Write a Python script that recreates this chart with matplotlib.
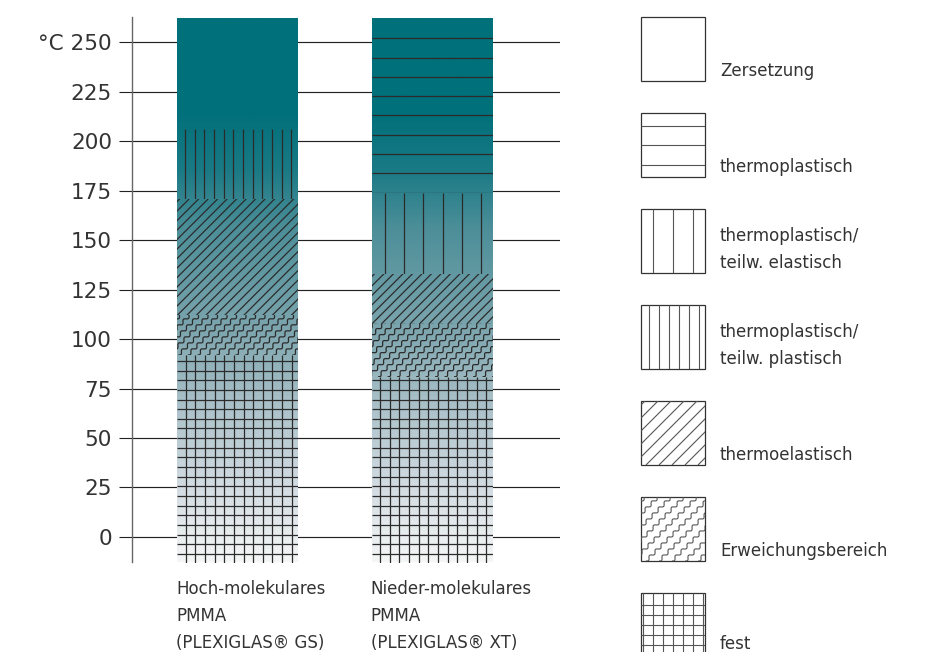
import matplotlib
matplotlib.use("Agg")
import matplotlib.pyplot as plt
import numpy as np
from matplotlib.collections import LineCollection
from matplotlib.patches import Rectangle
from matplotlib.colors import LinearSegmentedColormap

plt.rcParams['font.family'] = ['DejaVu Sans']

# --- data -------------------------------------------------------------
products = ["Hoch-molekulares\nPMMA\n(PLEXIGLAS® GS)",
            "Nieder-molekulares\nPMMA\n(PLEXIGLAS® XT)"]

# legend order (top to bottom)
states = ["Zersetzung", "thermoplastisch", "thermoplastisch/\nteilw. elastisch",
          "thermoplastisch/\nteilw. plastisch", "thermoelastisch",
          "Erweichungsbereich", "fest"]

# states of each material from bottom to top with upper limit in °C
gs_states = ["fest", "Erweichungsbereich", "thermoelastisch",
             "thermoplastisch/\nteilw. plastisch", "Zersetzung"]
gs_upper = [92, 112, 171, 206, 262.5]
xt_states = ["fest", "Erweichungsbereich", "thermoelastisch",
             "thermoplastisch/\nteilw. elastisch", "thermoplastisch"]
xt_upper = [81, 108, 133, 174, 262.5]

yticks = [0, 25, 50, 75, 100, 125, 150, 175, 200, 225, 250]
ytick_labels = ["0", "25", "50", "75", "100", "125", "150", "175", "200", "225", "°C 250"]

y_min = -12.9
y_max = 262.5

# hatch kind per state
hatch_kind = {
    "Zersetzung": None,
    "thermoplastisch": "h",
    "thermoplastisch/\nteilw. elastisch": "v",
    "thermoplastisch/\nteilw. plastisch": "v",
    "thermoelastisch": "diag",
    "Erweichungsbereich": "wave",
    "fest": "grid",
}
# spacing / offset in pixels (bars, legend)
bar_hatch = {
    "thermoplastisch": (19.3, 0),
    "thermoplastisch/\nteilw. elastisch": (19.3, 13.3),
    "thermoplastisch/\nteilw. plastisch": (9.65, 8),
    "thermoelastisch": (9.5, 3),
    "Erweichungsbereich": (9.5, 3),
    "fest": (9.65, 8.6),
}
leg_hatch = {
    "thermoplastisch": (19.3, 12.4),
    "thermoplastisch/\nteilw. elastisch": (20, 12),
    "thermoplastisch/\nteilw. plastisch": (10, 7.7),
    "thermoelastisch": (13, 4),
    "Erweichungsbereich": (13, 4),
    "fest": (10, 2),
}

W, H = 931, 652
fig = plt.figure(figsize=(W / 100, H / 100), dpi=100)

ax_l, ax_r, ax_b, ax_t = 132, 560, 562.5, 17.5
ax = fig.add_axes([ax_l / W, 1 - ax_b / H, (ax_r - ax_l) / W, (ax_b - ax_t) / H])
ax.set_ylim(y_min, y_max)
ax.set_xlim(-0.5424, 1.658)
ax.set_yticks(yticks)
ax.set_yticklabels(ytick_labels)
ax.set_xticks([])
for s in ["top", "right", "bottom"]:
    ax.spines[s].set_visible(False)
ax.spines["left"].set_color("#666666")
ax.spines["left"].set_linewidth(1.0)
ax.tick_params(axis="y", length=9.4, width=0.8, color="#222222", pad=5,
               labelsize=15.5, labelcolor="#333333")
ax.yaxis.grid(True, color="#222222", linewidth=0.85)
ax.set_axisbelow(True)

# gradient colormap (value -> colour)
grad_vals = [-8, 33.8, 69.2, 109.6, 158.6, 186.9, 215.7, 262.5]
grad_cols = ["#f4f6f6", "#cdd8df", "#abc1c9", "#7aa4ad", "#4b8e98", "#1a7a85",
             "#00707a", "#00707a"]
pos = [(v - grad_vals[0]) / (grad_vals[-1] - grad_vals[0]) for v in grad_vals]
cmap = LinearSegmentedColormap.from_list("plexi", list(zip(pos, grad_cols)))

bar_w = 0.622
overlay = fig.add_axes([0, 0, 1, 1], zorder=5)
overlay.set_xlim(0, W)
overlay.set_ylim(H, 0)
overlay.axis("off")

hatch_col = "#2b2b2b"


def to_px(x, y):
    xd, yd = ax.transData.transform((x, y))
    return xd, H - yd


def draw_hatch(kind, x0, y0, x1, y1, sp, off, col, lw):
    # x0,y0 top-left, x1,y1 bottom-right (pixel coordinates, y downward)
    segs = []
    if kind in ("v", "grid"):
        x = x0 + off
        while x < x1 - 1:
            segs.append([(x, y0), (x, y1)])
            x += sp
    if kind in ("h", "grid"):
        y = y1 - off
        while y > y0 + 3:
            segs.append([(x0, y), (x1, y)])
            y -= sp
    if kind in ("diag", "wave"):
        c = x0 + y0 + off
        amp = 1.5 if kind == "wave" else 0.0
        lam = 8.5
        d = np.array([1, -1]) / np.sqrt(2)
        n = np.array([1, 1]) / np.sqrt(2)
        length = (y1 - y0) * np.sqrt(2) + 2
        t = np.linspace(0, length, int(length * 3))
        while c < x1 + y1:
            base = np.array([c - y1, y1])
            pts = base + np.outer(t, d) + np.outer(amp * np.sin(2 * np.pi * t / lam), n)
            segs.append(pts)
            c += sp
    if not segs:
        return
    lc = LineCollection(segs, colors=col, linewidths=lw, capstyle="butt")
    overlay.add_collection(lc)
    lc.set_clip_path(Rectangle((x0, y0), x1 - x0, y1 - y0, transform=overlay.transData))


for i, (names, upper) in enumerate([(gs_states, gs_upper), (xt_states, xt_upper)]):
    lower = [y_min] + upper[:-1]
    heights = [u - l for u, l in zip(upper, lower)]
    bars = ax.bar([i] * len(names), heights, bottom=lower, width=bar_w,
                  color="none", linewidth=0, zorder=3)
    # gradient fill clipped to the whole column
    full = Rectangle((i - bar_w / 2, y_min), bar_w, y_max - y_min, transform=ax.transData)
    img = ax.imshow(np.linspace(1, 0, 400).reshape(-1, 1), cmap=cmap, aspect="auto",
                    extent=[i - bar_w / 2, i + bar_w / 2, y_min, y_max], zorder=2)
    img.set_clip_path(full)
    for name, l, u in zip(names, lower, upper):
        kind = hatch_kind[name]
        if kind is None:
            continue
        sp, off = bar_hatch[name]
        px0, py0 = to_px(i - bar_w / 2, u)
        px1, py1 = to_px(i + bar_w / 2, l)
        draw_hatch(kind, px0, py0, px1, py1, sp, off, hatch_col, 0.9)

ax.set_xlim(-0.5424, 1.658)
ax.set_ylim(y_min, y_max)

# product labels under the columns
for i, label in enumerate(products):
    px, _ = to_px(i - bar_w / 2, 0)
    for k, line in enumerate(label.split("\n")):
        overlay.text(px - 1, 594 + k * 27, line, fontsize=12, color="#333333",
                     ha="left", va="baseline")

# legend
box_x, box_top, box_size, box_step = 641, 17, 64, 96
for k, name in enumerate(states):
    top = box_top + k * box_step
    bottom = top + box_size
    kind = hatch_kind[name]
    if kind is not None:
        sp, off = leg_hatch[name]
        draw_hatch(kind, box_x, top, box_x + box_size, bottom, sp, off, "#555555", 0.8)
    overlay.add_patch(Rectangle((box_x, top), box_size, box_size, fill=False,
                                edgecolor="#333333", linewidth=0.9))
    lines = name.split("\n")
    for j, line in enumerate(reversed(lines)):
        overlay.text(720, min(bottom - 5, 649) - j * 27, line, fontsize=12,
                     color="#333333", ha="left", va="baseline")

fig.savefig("out.png", dpi=100)
